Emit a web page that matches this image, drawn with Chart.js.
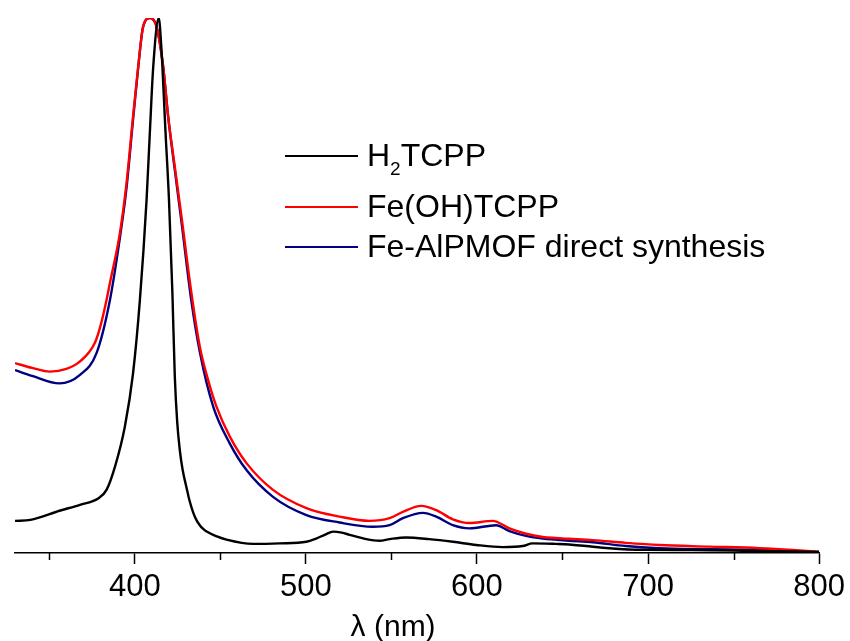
<!DOCTYPE html>
<html>
<head>
<meta charset="utf-8">
<title>UV-vis spectra</title>
<script src="https://cdn.jsdelivr.net/npm/chart.js@4.4.1/dist/chart.umd.min.js"></script>
<style>
  html, body { margin: 0; padding: 0; background: #ffffff; }
  #wrap { width: 850px; height: 641px; position: relative; }
</style>
</head>
<body>
<div id="wrap"><canvas id="spectra" width="850" height="641"></canvas></div>
<script>
// Normalised absorbance (Soret band maximum = 1)

// H2TCPP
const wlH2 = [330, 339, 356, 368, 378.6, 383.5, 388.4, 394.2, 399, 403, 406.9, 408.8, 410.8, 414,
  415.6, 418, 420, 422, 423.4, 424.8, 426.3, 428, 430.2, 432, 434, 436, 438, 440, 442, 448, 453.6, 469, 484.7, 500.3,
  506, 511, 516, 521, 525.6, 535.3, 543, 549, 558.5, 572, 586, 599.6, 615, 626.7, 632.5, 646,
  654, 663.8, 677.4, 697, 726, 760, 800];
const absH2 = [0.060, 0.062, 0.079, 0.090, 0.102, 0.118, 0.161, 0.236, 0.336, 0.473, 0.660, 0.785, 0.909, 1.000,
  0.941, 0.785, 0.660, 0.486, 0.330, 0.245, 0.193, 0.155, 0.123, 0.098, 0.077, 0.062, 0.052, 0.045, 0.040, 0.031, 0.025, 0.017, 0.018, 0.021,
  0.027, 0.034, 0.040, 0.038, 0.034, 0.026, 0.023, 0.026, 0.029, 0.026, 0.021, 0.015, 0.011, 0.013, 0.018, 0.017,
  0.016, 0.013, 0.009, 0.006, 0.0056, 0.004, 0.002];

// Fe(OH)TCPP
const wlFe = [330, 340, 350.4, 360, 368, 376.7, 380, 383.5, 385.5, 391.3, 395.2, 399, 402, 404.9, 408.8,
  412.7, 416.6, 419.5, 423.4, 427.3, 433.1, 438, 442.8, 447.7, 455.5, 465.3, 480.8, 500.3,
  519.7, 537.2, 548.9, 556.7, 567.4, 576.2, 585.9, 595.6, 609.2, 619, 628.7, 638.4, 646, 654, 667.7,
  687, 706.6, 735.8, 765, 784.5, 800];
const absFe = [0.355, 0.346, 0.339, 0.344, 0.358, 0.393, 0.425, 0.473, 0.505, 0.598, 0.692, 0.816, 0.909, 0.984, 1.000,
  0.984, 0.909, 0.816, 0.722, 0.629, 0.486, 0.386, 0.324, 0.274, 0.218, 0.168, 0.118, 0.084,
  0.068, 0.060, 0.065, 0.077, 0.088, 0.080, 0.063, 0.056, 0.060, 0.046, 0.036, 0.030, 0.028, 0.0265, 0.024,
  0.019, 0.015, 0.012, 0.009, 0.0056, 0.002];

// Fe-AlPMOF direct synthesis
const wlMof = [330, 340, 356, 368, 377.7, 385.5, 391.3, 395.2, 399, 402, 404.9, 409,
  412.7, 416.6, 419.5, 423.4, 427.3, 433, 438, 445.8, 455.5, 465.3, 480.8, 500.3,
  519.7, 539, 548.9, 556.7, 568.4, 576.2, 585.9, 595.6, 611.2, 619, 628.7, 638.4, 646, 654, 667.7,
  687, 706.6, 735.8, 765, 800];
const absMof = [0.342, 0.331, 0.317, 0.333, 0.374, 0.473, 0.589, 0.683, 0.810, 0.907, 0.984, 1.000,
  0.984, 0.909, 0.816, 0.716, 0.619, 0.473, 0.376, 0.274, 0.205, 0.155, 0.105, 0.071,
  0.057, 0.049, 0.052, 0.065, 0.075, 0.068, 0.052, 0.046, 0.052, 0.041, 0.032, 0.027, 0.025, 0.023, 0.020,
  0.013, 0.009, 0.007, 0.0056, 0.002];

const seriesNames = ['H\u2082TCPP', 'Fe(OH)TCPP', 'Fe-AlPMOF direct synthesis'];
const seriesColors = ['#000000', '#ff0000', '#000080'];
const majorTicks = [400, 500, 600, 700, 800];
const minorTicks = [350, 450, 550, 650, 750];
const axisTitle = '\u03bb (nm)';

const FONT = '"Liberation Sans", Arial, Helvetica, sans-serif';

function toPoints(xs, ys) {
  return xs.map((x, i) => ({ x: x, y: ys[i] }));
}

// Legend, minor ticks and the axis title are drawn on top of the plot
const decorations = {
  id: 'decorations',
  afterDraw(chart) {
    const ctx = chart.ctx;
    const xs = chart.scales.x;
    const area = chart.chartArea;
    ctx.save();

    // minor ticks
    ctx.strokeStyle = '#000';
    ctx.lineWidth = 1.5;
    minorTicks.forEach(v => {
      const px = Math.round(xs.getPixelForValue(v)) + 0.5;
      ctx.beginPath();
      ctx.moveTo(px, area.bottom);
      ctx.lineTo(px, area.bottom + 7);
      ctx.stroke();
    });

    // axis title
    ctx.fillStyle = '#000';
    ctx.font = '30px ' + FONT;
    ctx.textAlign = 'center';
    ctx.textBaseline = 'alphabetic';
    ctx.fillText(axisTitle, xs.getPixelForValue(551), area.bottom + 83);

    // legend
    const lx0 = 285, lx1 = 358, tx = 367;
    const rows = [156, 207, 247];
    chart.data.datasets.forEach((ds, i) => {
      const y = rows[i];
      ctx.strokeStyle = ds.borderColor;
      ctx.lineWidth = 2;
      ctx.beginPath();
      ctx.moveTo(lx0, y);
      ctx.lineTo(lx1, y);
      ctx.stroke();

      ctx.fillStyle = '#000';
      ctx.textAlign = 'left';
      ctx.textBaseline = 'alphabetic';
      const base = y + 10;
      const parts = ds.label.split('\u2082');
      if (parts.length === 2) {
        ctx.font = '32px ' + FONT;
        ctx.fillText(parts[0], tx, base);
        let x = tx + ctx.measureText(parts[0]).width;
        ctx.font = '19px ' + FONT;
        ctx.fillText('2', x, base + 9);
        x += ctx.measureText('2').width;
        ctx.font = '32px ' + FONT;
        ctx.fillText(parts[1], x, base);
      } else {
        ctx.font = '32px ' + FONT;
        ctx.fillText(ds.label, tx, base);
      }
    });
    ctx.restore();
  }
};

const datasets = [
  { label: seriesNames[0], data: toPoints(wlH2, absH2), borderColor: seriesColors[0] },
  { label: seriesNames[1], data: toPoints(wlFe, absFe), borderColor: seriesColors[1] },
  { label: seriesNames[2], data: toPoints(wlMof, absMof), borderColor: seriesColors[2] }
].map(d => Object.assign(d, {
  borderWidth: 2.4,
  pointRadius: 0,
  fill: false,
  cubicInterpolationMode: 'monotone',
  backgroundColor: d.borderColor
}));

new Chart(document.getElementById('spectra'), {
  type: 'line',
  data: { datasets: datasets },
  options: {
    responsive: false,
    animation: false,
    events: [],
    layout: { padding: { left: 15, right: 30, top: 18, bottom: 0 } },
    plugins: {
      legend: { display: false },
      tooltip: { enabled: false },
      title: { display: false }
    },
    scales: {
      x: {
        type: 'linear',
        min: 330,
        max: 800,
        afterBuildTicks(scale) {
          scale.ticks = majorTicks.map(v => ({ value: v }));
        },
        afterFit(scale) {
          scale.height = 88;
        },
        border: { display: true, color: '#000', width: 1.5 },
        grid: {
          display: true,
          drawOnChartArea: false,
          drawTicks: true,
          tickLength: 11,
          tickWidth: 1.5,
          tickColor: '#000'
        },
        ticks: {
          color: '#000',
          font: { family: FONT, size: 31 },
          padding: 5,
          maxRotation: 0,
          autoSkip: false
        },
        title: { display: false }
      },
      y: {
        display: false,
        min: 0,
        max: 1
      }
    }
  },
  plugins: [decorations]
});
</script>
</body>
</html>
